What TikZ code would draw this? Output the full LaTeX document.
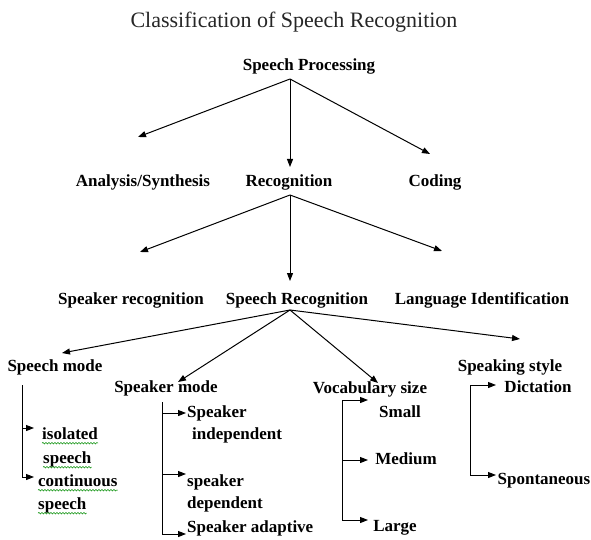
\documentclass[tikz,border=0pt]{standalone}
\usepackage{fontspec}
\setmainfont{Liberation Serif}
\usetikzlibrary{arrows.meta,decorations.pathmorphing}

\tikzset{
  lbl/.style={font=\bfseries\fontsize{17}{20}\selectfont, inner sep=0pt, text height=12pt, text depth=4pt},
  arr/.style={-{Triangle[length=8pt,width=6pt]}, line width=1pt},
  wavy/.style={green!55!black, line width=0.5pt, decorate,
    decoration={snake, amplitude=0.8pt, segment length=3pt}}
}

\begin{document}
\begin{tikzpicture}[x=1pt,y=-1pt]
  \useasboundingbox (0,0) rectangle (591,540);

  \node[font=\fontsize{22}{26}\selectfont, inner sep=0pt, black!85] (title) at (294,22)
    {Classification of Speech Recognition};

  % levels
  \node[lbl] (proc) at (309,67) {Speech Processing};
  \node[lbl] (anasyn) at (143,182) {Analysis/Synthesis};
  \node[lbl] (recog) at (289,182) {Recognition};
  \node[lbl] (coding) at (435,182) {Coding};

  \node[lbl] (spkrec) at (131,300) {Speaker recognition};
  \node[lbl] (sprec) at (297,300) {Speech Recognition};
  \node[lbl] (langid) at (482,300) {Language Identification};

  \node[lbl] (spmode) at (55,367) {Speech mode};
  \node[lbl] (spkmode) at (166,388) {Speaker mode};
  \node[lbl] (vocab) at (370,389) {Vocabulary size};
  \node[lbl] (style) at (510,367) {Speaking style};

  % leaves
  \node[lbl, anchor=west] (iso1) at (42,435) {isolated};
  \node[lbl, anchor=west] (iso2) at (43,459) {speech};
  \node[lbl, anchor=west] (cont1) at (38,482) {continuous};
  \node[lbl, anchor=west] (cont2) at (38,505) {speech};

  \node[lbl, anchor=west] (indep1) at (187,413) {Speaker};
  \node[lbl, anchor=west] (indep2) at (192,435) {independent};
  \node[lbl, anchor=west] (dep1) at (187,482) {speaker};
  \node[lbl, anchor=west] (dep2) at (187,504) {dependent};
  \node[lbl, anchor=west] (adapt) at (187,528) {Speaker adaptive};

  \node[lbl] (small) at (400,413) {Small};
  \node[lbl] (medium) at (406,460) {Medium};
  \node[lbl] (large) at (395,527) {Large};

  \node[lbl] (dict) at (538,388) {Dictation};
  \node[lbl] (spont) at (544,480) {Spontaneous};

  % tree arrows
  \coordinate (proc-o) at (290,79);
  \coordinate (recog-o) at (290,195);
  \coordinate (sprec-o) at (290,310);

  \coordinate (to-anasyn) at (138,137);
  \coordinate (to-recog) at (290,167);
  \coordinate (to-coding) at (430,154);
  \coordinate (to-spkrec) at (140,252);
  \coordinate (to-sprec) at (290,281);
  \coordinate (to-langid) at (442,251);
  \coordinate (to-spmode) at (62,353);
  \coordinate (to-spkmode) at (178,382);
  \coordinate (to-vocab) at (378,383);
  \coordinate (to-style) at (520,339);

  \foreach \t in {anasyn, recog, coding}
    \draw[arr] (proc-o) -- (to-\t);
  \foreach \t in {spkrec, sprec, langid}
    \draw[arr] (recog-o) -- (to-\t);
  \foreach \t in {spmode, spkmode, vocab, style}
    \draw[arr] (sprec-o) -- (to-\t);

  % brackets
  \draw[arr] (22,385) |- (34,477);
  \draw[arr] (22,428) -- (34,428);

  \draw[arr] (162,402) |- (186,534);
  \foreach \y in {413, 474}
    \draw[arr] (162,\y) -- (186,\y);

  \draw[arr] (342,520) |- (368,400);
  \draw[arr] (342,460) -- (368,460);
  \draw[arr] (342,460) |- (368,520);

  \draw[arr] (470,475) |- (496,385);
  \draw[arr] (470,475) -- (496,475);

  % spell check marks
  \foreach \n in {iso1, iso2, cont1, cont2}
    \draw[wavy] (\n.south west) -- (\n.south east);
\end{tikzpicture}
\end{document}
